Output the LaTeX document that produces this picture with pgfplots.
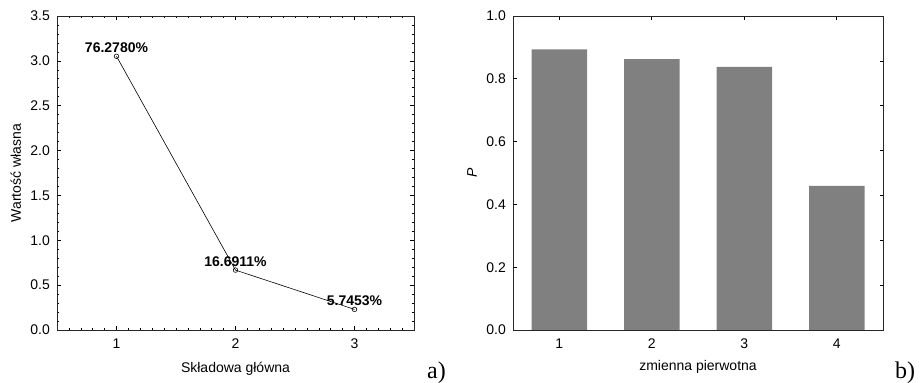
\documentclass[border=0pt]{standalone}
\usepackage{fontspec}
\setmainfont{Liberation Sans}
\newfontfamily\serifb{Liberation Serif}
\usepackage{pgfplots}
\pgfplotsset{compat=1.18}
\definecolor{bargray}{HTML}{808080}
\begin{document}
\begin{tikzpicture}
\path[use as bounding box] (0,0) rectangle (922bp,383bp);
\pgfplotsset{
  common/.style={
    scale only axis,
    anchor=south west,
    axis line style={line width=0.8bp, black!85},
    tick style={line width=0.6bp, black},
    tick align=inside,
    major tick length=4bp,
    minor tick length=2bp,
    tick label style={font=\fontsize{14bp}{16bp}\selectfont, inner sep=0pt},
    /pgf/number format/assume math mode=true,
    yticklabel style={xshift=-7bp, /pgf/number format/.cd, fixed, fixed zerofill, precision=1},
    xticklabel style={yshift=-9bp},
    label style={font=\fontsize{14bp}{16bp}\selectfont, inner sep=0pt},
  }
}
\begin{axis}[common,
  at={(57bp,53bp)}, width=357bp, height=314bp,
  xmin=0.5, xmax=3.5, ymin=0, ymax=3.5,
  xtick={1,2,3}, xticklabels={1,2,3},
  minor xtick={0.6,0.7,0.8,0.9,1.1,1.2,1.3,1.4,1.5,1.6,1.7,1.8,1.9,2.1,2.2,2.3,2.4,2.5,2.6,2.7,2.8,2.9,3.1,3.2,3.3,3.4},
  ytick={0,0.5,1,1.5,2,2.5,3,3.5},
  minor y tick num=4,
  xlabel={Składowa główna},
  ylabel={Wartość własna},
  xlabel style={at={(axis description cs:0.5,-0.134)}, anchor=base},
  ylabel style={at={(axis description cs:-0.101,0.5)}, anchor=base, rotate=0},
  every node near coord/.append style={anchor=base, yshift=4bp, inner sep=0pt, font=\bfseries\fontsize{14bp}{16bp}\selectfont},
]
\addplot[black, line width=0.6bp, mark=o, mark size=2.3bp, mark options={fill=white, line width=0.6bp},
  nodes near coords, point meta=explicit symbolic]
  coordinates {(1,3.0511)[76.2780\%] (2,0.6676)[16.6911\%] (3,0.2298)[5.7453\%]};
\end{axis}

\begin{axis}[common,
  at={(513bp,53bp)}, width=370bp, height=314bp,
  xmin=0.5, xmax=4.5, ymin=0, ymax=1,
  xtick={1,2,3,4}, xticklabels={1,2,3,4},
  ytick={0,0.2,0.4,0.6,0.8,1.0},
  ytick pos=left,
  xlabel={zmienna pierwotna},
  ylabel={\itshape P},
  xlabel style={at={(axis description cs:0.5,-0.13)}, anchor=base},
  ylabel style={at={(axis description cs:-0.111,0.5)}, anchor=center, rotate=0},
]
\addplot[ybar, bar width=0.6, fill=bargray, draw=none]
  coordinates {(1,0.894) (2,0.863) (3,0.838) (4,0.459)};
\end{axis}
\begin{axis}[
  scale only axis, anchor=south west,
  at={(513bp,53bp)}, width=370bp, height=314bp,
  xmin=0.5, xmax=4.5, ymin=0, ymax=1,
  axis x line=none, axis y line*=right,
  axis line style={draw=none},
  tick align=inside, major tick length=3bp,
  tick style={line width=0.6bp, black},
  ytick={0.142857,0.285714,0.428571,0.571429,0.714286,0.857143},
  yticklabels={},
]
\addplot[draw=none] coordinates {(1,0)};
\end{axis}
\node[anchor=base west, inner sep=0pt, font=\serifb\fontsize{24bp}{26bp}\selectfont] at (427bp,5bp) {a)};
\node[anchor=base west, inner sep=0pt, font=\serifb\fontsize{24bp}{26bp}\selectfont] at (895bp,5bp) {b)};
\end{tikzpicture}
\end{document}
